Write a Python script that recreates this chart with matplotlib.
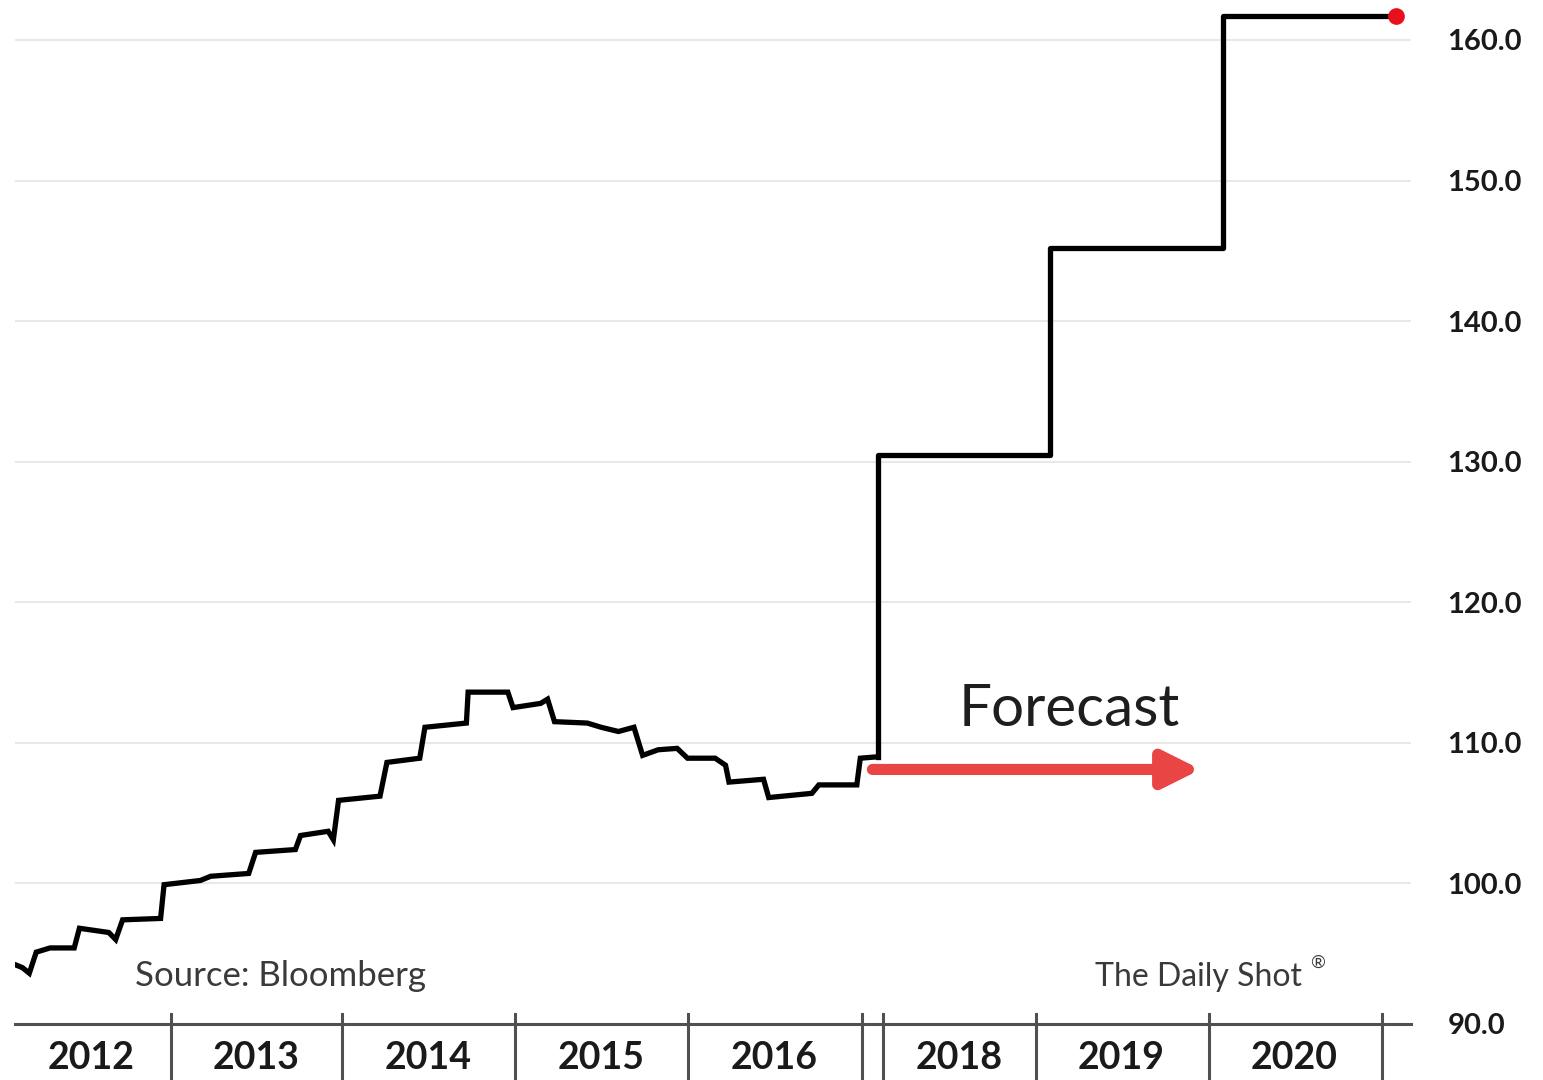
import matplotlib.pyplot as plt
import matplotlib.transforms as mtransforms
import numpy as np

plt.rcParams['font.family'] = ['Lato', 'DejaVu Sans']

# chart position: 1 unit = 1 year slot (2017 is squeezed into a thin gap)
hist_x = [0.09, 0.13, 0.17, 0.21, 0.29, 0.43, 0.46, 0.63, 0.67, 0.71, 0.93, 0.95,
          1.16, 1.22, 1.44, 1.48, 1.71, 1.74, 1.90, 1.93, 1.96, 2.20, 2.24, 2.43,
          2.46, 2.70, 2.71, 2.94, 2.97, 3.13, 3.17, 3.21, 3.40, 3.48, 3.58, 3.67,
          3.72, 3.81, 3.92, 3.98, 4.14, 4.20, 4.22, 4.42, 4.45, 4.70, 4.74, 4.96,
          4.98, 5.08]
hist_v = [94.2, 94.0, 93.6, 95.1, 95.4, 95.4, 96.8, 96.5, 96.0, 97.4, 97.5, 99.9,
          100.2, 100.5, 100.7, 102.2, 102.4, 103.4, 103.7, 103.1, 105.9, 106.2, 108.6, 108.9,
          111.1, 111.4, 113.6, 113.6, 112.5, 112.8, 113.1, 111.5, 111.4, 111.1, 110.8, 111.1,
          109.1, 109.5, 109.6, 108.9, 108.9, 108.4, 107.2, 107.4, 106.1, 106.4, 107.0, 107.0,
          108.9, 109.0]

fc_x = [5.08, 6.08, 7.08, 8.08]
fc_v = [130.5, 145.2, 161.7]

years = ['2012', '2013', '2014', '2015', '2016', '2018', '2019', '2020']
year_mid = [0.53, 1.48, 2.48, 3.48, 4.48, 5.55, 6.49, 7.49]
year_sep = [0.99, 1.98, 2.98, 3.98, 4.99, 5.11, 6.00, 7.00, 8.00]

fig = plt.figure(figsize=(15.43, 10.8), dpi=100)
ax = fig.add_axes([0.0097, 0.052, 0.905, 0.9435])

ax.plot(hist_x, hist_v, color='black', lw=3.8, solid_joinstyle='miter', zorder=3)
ax.step(fc_x, [hist_v[-1]] + fc_v, where='pre', color='black', lw=3.8, zorder=3)
ax.plot(fc_x[-1], fc_v[-1], 'o', color='#e8101a', ms=11, zorder=4)

ax.set_xlim(0.087, 8.17)
ax.set_ylim(90, 162.5)
ax.set_yticks(np.arange(90, 161, 10))
ax.yaxis.tick_right()
ax.yaxis.set_major_formatter(plt.FormatStrFormatter('%.1f'))
ax.tick_params(axis='y', length=0, pad=26, labelsize=21)
for t in ax.get_yticklabels():
    t.set_fontweight('bold')
    t.set_color('#1a1a1a')
ax.yaxis.grid(True, color='#e8e8e8', lw=1.5)
ax.set_axisbelow(True)

ax.set_xticks(year_mid, years)
ax.tick_params(axis='x', length=0, pad=12, labelsize=27)
for t in ax.get_xticklabels():
    t.set_fontweight('bold')
    t.set_color('#1a1a1a')

for s in ['top', 'left', 'right']:
    ax.spines[s].set_visible(False)
ax.spines['bottom'].set_color('#505050')
ax.spines['bottom'].set_linewidth(2.2)

trans = mtransforms.blended_transform_factory(ax.transData, ax.transAxes)
for xs in year_sep:
    ax.plot([xs, xs], [0.01, -0.06], color='#505050', lw=2.2, transform=trans, clip_on=False)

ax.text(0.78, 92.7, 'Source: Bloomberg', fontsize=25, color='#3a3a3a')
ax.text(6.34, 92.7, 'The Daily Shot', fontsize=23, color='#3a3a3a')
ax.text(7.585, 94.0, '\u00ae', fontsize=13, color='#3a3a3a')
ax.text(5.55, 111.2, 'Forecast', fontsize=42, color='#1e1e1e')

ax.annotate('', xy=(6.95, 108.1), xytext=(5.05, 108.1),
            arrowprops=dict(arrowstyle='-|>,head_length=1.1,head_width=0.55',
                            color='#e94545', lw=8, mutation_scale=20,
                            shrinkA=0, shrinkB=0))

fig.savefig('out.png', dpi=100)
